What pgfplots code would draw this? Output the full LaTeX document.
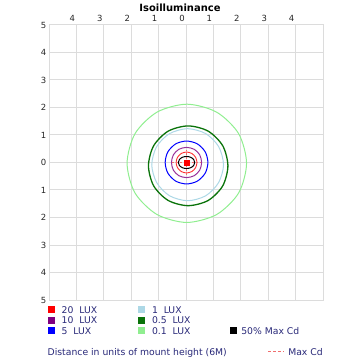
\documentclass[border=0pt]{standalone}
\usepackage{fontspec}
\setmainfont{DejaVu Sans}
\usepackage{pgfplots}
\pgfplotsset{compat=1.18}
\definecolor{gridgray}{RGB}{220,220,220}
\definecolor{legtext}{RGB}{40,40,120}
\definecolor{lux20}{RGB}{255,0,0}
\definecolor{lux10}{RGB}{128,0,128}
\definecolor{lux5}{RGB}{0,0,255}
\definecolor{lux1}{RGB}{173,216,230}
\definecolor{lux05}{RGB}{10,115,10}
\definecolor{lux01}{RGB}{144,238,144}
\definecolor{maxcd}{RGB}{240,110,110}
\pgfplotsset{
  sq/.style 2 args={legend image code/.code={\fill[#1, draw=none] (0bp,-3.5bp) rectangle (7bp,3.5bp); \path[draw=none] (0bp,0bp) -- (#2,0bp);}},
  blank/.style={legend image code/.code={\path[draw=none] (0bp,0bp) -- (#1,0bp);}},
}
\begin{document}
\begin{tikzpicture}
\useasboundingbox (-49bp,-60bp) rectangle (311bp,300bp);
\begin{axis}[
  at={(0,0)}, anchor=south west, scale only axis,
  width=274bp, height=275bp,
  xmin=-5, xmax=5, ymin=-5, ymax=5,
  xtick={-4,...,4}, xticklabels={4,3,2,1,0,1,2,3,4},
  ytick={-5,...,5}, yticklabels={5,4,3,2,1,0,1,2,3,4,5},
  xticklabel pos=upper,
  grid=major,
  major grid style={draw=gridgray, line width=1bp},
  axis line style={draw=gridgray, line width=1bp},
  major tick length=0pt, tick style={draw=none},
  tick label style={font=\fontsize{8.5}{9}\selectfont, text=black!85},
  /pgf/number format/assume math mode=true,
  xticklabel style={xshift=-4bp, inner sep=1.5bp, yshift=1.5bp},
  yticklabel style={inner sep=1.5bp, xshift=-1bp},
  title={Isoilluminance},
  title style={at={(axis description cs:0.478,1)}, anchor=base, yshift=8bp,
    font=\bfseries\fontsize{10}{11}\selectfont},
  legend columns=3,
  legend style={at={(axis description cs:-0.0047,-0.0162)}, anchor=north west,
    draw=none, fill=none, inner sep=0pt, outer sep=0pt, row sep=0pt, column sep=0pt,
    font=\fontsize{9.3}{10}\selectfont, text=legtext,
    nodes={inner sep=0pt, outer sep=0pt, text height=8.75bp, text depth=1.75bp, anchor=west}},
  legend cell align=left,
]
% legend
\addlegendimage{sq={lux20}{14bp}}
\addlegendentry{\makebox[76.3bp][l]{20\ \ LUX}}
\addlegendimage{sq={lux1}{14bp}}
\addlegendentry{\makebox[78.3bp][l]{1\ \ LUX}}
\addlegendimage{blank=11bp}
\addlegendentry{\mbox{}}
\addlegendimage{sq={lux10}{14bp}}
\addlegendentry{10\ \ LUX}
\addlegendimage{sq={lux05}{14bp}}
\addlegendentry{0.5\ \ LUX}
\addlegendimage{blank=11bp}
\addlegendentry{\mbox{}}
\addlegendimage{sq={lux5}{14bp}}
\addlegendentry{5\ \ LUX}
\addlegendimage{sq={lux01}{14bp}}
\addlegendentry{0.1\ \ LUX}
\addlegendimage{sq={black}{11bp}}
\addlegendentry{50\% Max Cd}
\addlegendimage{blank=1bp}
\addlegendentry{\mbox{}}
\addlegendimage{blank=1bp}
\addlegendentry{\mbox{}}
\addlegendimage{blank=1bp}
\addlegendentry{\mbox{}}
\addlegendimage{blank=1bp}
\addlegendentry{\makebox[76.3bp][l]{\hspace*{-14bp}Distance in units of mount height (6M)}}
\addlegendimage{blank=1bp}
\addlegendentry{\mbox{}}
\addlegendimage{legend image code/.code={\draw[overlay, maxcd, line width=0.8bp, dash pattern=on 3bp off 2bp] (38bp,0bp) -- (54bp,0bp);}}
\addlegendentry{\hspace*{47bp}Max Cd}

% 0.1 LUX
\addplot[lux01, line width=1bp, smooth cycle, forget plot] coordinates {
(2.21,-0.03) (1.92,1.05) (1.12,1.83) (0.03,2.12) (-1.06,1.83) (-1.86,1.05)
(-2.15,-0.03) (-1.86,-1.11) (-1.06,-1.89) (0.03,-2.18) (1.12,-1.89) (1.92,-1.11)};
% 1 LUX
\addplot[lux1, line width=1bp, smooth cycle, forget plot] coordinates {
(1.37,-0.08) (1.19,0.58) (0.72,1.05) (0.06,1.23) (-0.60,1.05) (-1.07,0.58)
(-1.25,-0.08) (-1.07,-0.73) (-0.60,-1.21) (0.06,-1.39) (0.72,-1.21) (1.19,-0.73)};
% 0.5 LUX
\addplot[lux05, line width=1.3bp, smooth cycle, forget plot] coordinates {
(1.53,-0.12) (1.34,0.61) (0.81,1.14) (0.08,1.33) (-0.65,1.14) (-1.18,0.61)
(-1.37,-0.12) (-1.18,-0.85) (-0.65,-1.38) (0.08,-1.57) (0.81,-1.38) (1.34,-0.85)};
% 5 LUX
\addplot[lux5, line width=1bp, smooth cycle, forget plot] coordinates {
(0.80,0) (0.70,0.39) (0.41,0.68) (0.02,0.78) (-0.37,0.68) (-0.66,0.39)
(-0.76,0) (-0.66,-0.39) (-0.37,-0.68) (0.02,-0.78) (0.41,-0.68) (0.70,-0.39)};
% 10 LUX
\addplot[lux10!80, line width=1bp, smooth cycle, forget plot] coordinates {
(0.57,0) (0.50,0.28) (0.30,0.48) (0.02,0.55) (-0.26,0.48) (-0.46,0.28)
(-0.53,0) (-0.46,-0.28) (-0.26,-0.48) (0.02,-0.55) (0.30,-0.48) (0.50,-0.28)};
% 20 LUX
\addplot[lux20!80, line width=0.9bp, smooth cycle, forget plot] coordinates {
(0.40,0) (0.35,0.19) (0.21,0.33) (0.02,0.38) (-0.17,0.33) (-0.31,0.19)
(-0.36,0) (-0.31,-0.19) (-0.17,-0.33) (0.02,-0.38) (0.21,-0.33) (0.35,-0.19)};
% 50% Max Cd
\addplot[black, line width=1bp, smooth cycle, forget plot] coordinates {
(0.32,0) (0.28,0.11) (0.17,0.19) (0.02,0.22) (-0.13,0.19) (-0.24,0.11)
(-0.28,0) (-0.24,-0.11) (-0.13,-0.19) (0.02,-0.22) (0.17,-0.19) (0.28,-0.11)};
% Max Cd crosshair
\addplot[maxcd, line width=0.8bp, dash pattern=on 2bp off 2bp, forget plot] coordinates {(-0.50,0) (0.55,0)};
\addplot[maxcd, line width=0.8bp, dash pattern=on 2bp off 2bp, forget plot] coordinates {(0.02,-0.45) (0.02,0.45)};
% centre
\addplot[only marks, mark=square*, mark size=2.3bp, color=red, forget plot] coordinates {(0.02,0)};
\end{axis}
\end{tikzpicture}
\end{document}
